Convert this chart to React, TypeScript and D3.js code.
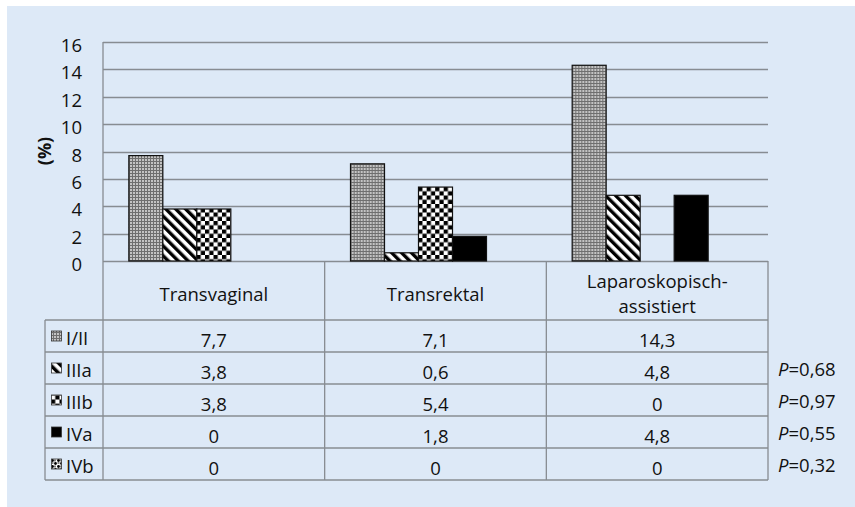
import React from "react";
import * as d3 from "d3";

const categories = ["Transvaginal", "Transrektal", "Laparoskopisch-assistiert"];
const categoryLines = [["Transvaginal"], ["Transrektal"], ["Laparoskopisch-", "assistiert"]];
const seriesNames = ["I/II", "IIIa", "IIIb", "IVa", "IVb"];
const valuesI_II = [7.7, 7.1, 14.3];
const valuesIIIa = [3.8, 0.6, 4.8];
const valuesIIIb = [3.8, 5.4, 0];
const valuesIVa = [0, 1.8, 4.8];
const valuesIVb = [0, 0, 0];
const tableLabels = [
  ["7,7", "7,1", "14,3"],
  ["3,8", "0,6", "4,8"],
  ["3,8", "5,4", "0"],
  ["0", "1,8", "4,8"],
  ["0", "0", "0"],
];
const pValues = ["", "0,68", "0,97", "0,55", "0,32"];
const yTicks = [0, 2, 4, 6, 8, 10, 12, 14, 16];

const seriesValues = [valuesI_II, valuesIIIa, valuesIIIb, valuesIVa, valuesIVb];
const fills = ["url(#pDots)", "url(#pDiag)", "url(#pCheck)", "#000", "url(#pWeave)"];

const W = 855;
const H = 507;
const plotLeft = 103;
const plotRight = 768;
const plotTop = 42;
const plotBottom = 261;
const headerBottom = 320;
const rowH = 32;
const legendLeft = 45;
const FONT = "'Open Sans', Lato, sans-serif";
const GRID = "#878c92";
const TFS = 18.5;

export default function App() {
  const x = d3.scaleBand<string>().domain(categories).range([plotLeft, plotRight]).padding(0);
  const xs = d3
    .scaleBand<string>()
    .domain(seriesNames)
    .range([0, x.bandwidth()])
    .paddingInner(0)
    .paddingOuter(0.76);
  const y = d3.scaleLinear().domain([0, 16]).range([plotBottom, plotTop]);

  const rowTop = (i: number) => headerBottom + i * rowH;
  const tableBottom = rowTop(seriesNames.length);

  return (
    <svg
      width={W}
      height={H}
      style={{ position: "absolute", left: 0, top: 0 }}
      fontFamily={FONT}
    >
      <defs>
        <pattern id="pDots" patternUnits="userSpaceOnUse" width={3} height={3}>
          <rect width={3} height={3} fill="#6f6f6f" />
          <rect x={0} y={0} width={2} height={2} fill="#c4c4c4" />
        </pattern>
        <pattern
          id="pDiag"
          patternUnits="userSpaceOnUse"
          width={7}
          height={7}
          patternTransform="rotate(-45)"
        >
          <rect width={7} height={7} fill="#fff" />
          <rect width={3.4} height={7} fill="#000" />
        </pattern>
        <pattern id="pCheck" patternUnits="userSpaceOnUse" width={8.5} height={8.5}>
          <rect width={8.5} height={8.5} fill="#fff" />
          <rect width={4.25} height={4.25} fill="#000" />
          <rect x={4.25} y={4.25} width={4.25} height={4.25} fill="#000" />
        </pattern>
        <pattern id="pWeave" patternUnits="userSpaceOnUse" width={6} height={6}>
          <rect width={6} height={6} fill="#fff" />
          <circle cx={1.5} cy={1.5} r={1.4} fill="#000" />
          <circle cx={4.5} cy={4.5} r={1.4} fill="#000" />
          <rect x={3.5} y={0.5} width={2} height={1} fill="#000" />
          <rect x={0.5} y={3.5} width={1} height={2} fill="#000" />
        </pattern>
      </defs>

      <rect x={0} y={0} width={W} height={H} fill="#fff" />
      <rect x={7} y={6} width={W - 7} height={H - 6} fill="#dde9f7" />

      {/* gridlines */}
      {yTicks.map((t) => (
        <line
          key={"g" + t}
          x1={plotLeft}
          x2={plotRight}
          y1={Math.round(y(t)) + 0.5}
          y2={Math.round(y(t)) + 0.5}
          stroke={GRID}
          strokeWidth={1.3}
        />
      ))}
      {/* y tick labels */}
      {yTicks.map((t) => (
        <text
          key={"t" + t}
          x={82}
          y={y(t) + 10}
          textAnchor="end"
          fontSize={18.5}
          fill="#111"
        >
          {t}
        </text>
      ))}
      <text
        transform={`translate(51,151) rotate(-90)`}
        textAnchor="middle"
        fontSize={18}
        fontWeight="bold"
        fill="#111"
      >
        (%)
      </text>

      {/* bars */}
      {categories.map((c, ci) => (
        <g key={c} transform={`translate(${x(c)},0)`}>
          {seriesNames.map((s, si) => {
            const v = seriesValues[si][ci];
            if (v <= 0) return null;
            return (
              <rect
                key={s}
                x={xs(s)}
                y={y(v)}
                width={xs.bandwidth()}
                height={y(0) - y(v)}
                fill={fills[si]}
                stroke="#111"
                strokeWidth={1.2}
              />
            );
          })}
        </g>
      ))}

      {/* table lines */}
      <g stroke={GRID} strokeWidth={1.3} fill="none">
        <line x1={plotLeft} x2={plotLeft} y1={plotTop} y2={tableBottom} />
        {categories.map((c) => (
          <line
            key={"v" + c}
            x1={(x(c) as number) + x.bandwidth()}
            x2={(x(c) as number) + x.bandwidth()}
            y1={plotBottom}
            y2={tableBottom}
          />
        ))}
        <line x1={legendLeft} x2={legendLeft} y1={headerBottom} y2={tableBottom} />
        {d3.range(seriesNames.length + 1).map((i) => (
          <line key={"h" + i} x1={legendLeft} x2={plotRight} y1={rowTop(i)} y2={rowTop(i)} />
        ))}
      </g>

      {/* header text */}
      {categories.map((c, ci) => {
        const lines = categoryLines[ci];
        const cx = (x(c) as number) + x.bandwidth() / 2;
        const base = lines.length === 1 ? 301 : 288;
        return (
          <text key={"h" + c} textAnchor="middle" fontSize={TFS} fill="#111">
            {lines.map((l, li) => (
              <tspan key={li} x={cx} y={base + li * 25}>
                {l}
              </tspan>
            ))}
          </text>
        );
      })}

      {/* rows */}
      {seriesNames.map((s, si) => (
        <g key={"r" + s}>
          <rect
            x={51.5}
            y={rowTop(si) + 11}
            width={10}
            height={10}
            fill={fills[si]}
            stroke="#333"
            strokeWidth={0.8}
          />
          <text x={66} y={rowTop(si) + 25} fontSize={TFS} fill="#111">
            {s}
          </text>
          {categories.map((c, ci) => (
            <text
              key={c}
              x={(x(c) as number) + x.bandwidth() / 2}
              y={rowTop(si) + 27}
              textAnchor="middle"
              fontSize={TFS}
              fill="#111"
            >
              {tableLabels[si][ci]}
            </text>
          ))}
          {pValues[si] && (
            <text x={778} y={rowTop(si) + 24} fontSize={TFS} fill="#111">
              <tspan fontStyle="italic">P</tspan>={pValues[si]}
            </text>
          )}
        </g>
      ))}
    </svg>
  );
}
